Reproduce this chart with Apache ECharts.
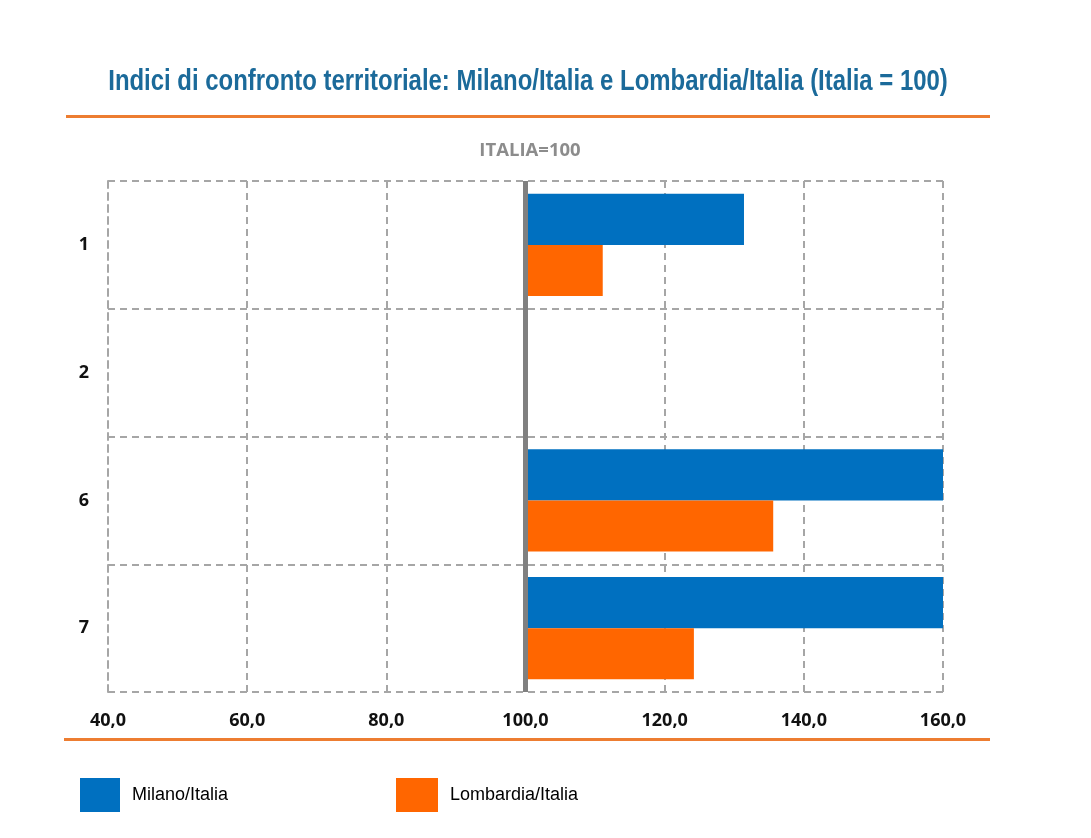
<!DOCTYPE html>
<html>
<head>
<meta charset="utf-8">
<script src="https://cdn.jsdelivr.net/npm/echarts@6/dist/echarts.min.js"></script>
<style>html,body{margin:0;padding:0;background:#fff}#c{width:1091px;height:838px}</style>
</head>
<body>
<div id="c"></div>
<script>
const categories = ['1', '2', '6', '7'];
const milano = [131.4, null, 165.0, 165.0];
const lombardia = [111.1, null, 135.6, 124.2];
const baseline = 100;
const tickValues = [40, 60, 80, 100, 120, 140, 160];

const chart = echarts.init(document.getElementById('c'));
const off = v => (v == null ? null : v - baseline);
const fmt = v => (v + baseline).toFixed(1).replace('.', ',');
const labelFont = { fontFamily: 'Open Sans', fontWeight: 'bold', fontSize: 18, color: '#111' };
const dash = { color: '#a6a6a6', width: 2, type: [7, 5] };

chart.setOption({
  animation: false,
  backgroundColor: '#fff',
  grid: { left: 108, right: 148, top: 181, bottom: 146 },
  xAxis: {
    type: 'value',
    min: tickValues[0] - baseline,
    max: tickValues[tickValues.length - 1] - baseline,
    interval: 20,
    axisLine: { show: false },
    axisTick: { show: false },
    axisLabel: Object.assign({ formatter: fmt, margin: 20 }, labelFont),
    splitLine: { show: true, lineStyle: dash }
  },
  yAxis: {
    type: 'category',
    data: categories,
    inverse: true,
    axisLine: { show: true, onZero: false, lineStyle: dash },
    axisTick: { show: false },
    axisLabel: Object.assign({ margin: 19 }, labelFont),
    splitLine: { show: true, lineStyle: dash }
  },
  legend: [
    { left: 80, top: 778, padding: 0, itemWidth: 40, itemHeight: 34, icon: 'rect', data: ['Milano/Italia'],
      textStyle: { fontFamily: 'Liberation Sans', fontSize: 18, color: '#000', padding: [3, 0, 0, 7] } },
    { left: 396, top: 778, padding: 0, itemWidth: 42, itemHeight: 34, icon: 'rect', data: ['Lombardia/Italia'],
      textStyle: { fontFamily: 'Liberation Sans', fontSize: 18, color: '#000', padding: [3, 0, 0, 7] } }
  ],
  series: [
    {
      name: 'Milano/Italia', type: 'bar', data: milano.map(off),
      barGap: '0%', barCategoryGap: '20%',
      itemStyle: { color: '#0070c0' },
      markLine: {
        silent: true, symbol: 'none', label: { show: false },
        lineStyle: { color: '#808080', width: 5, type: 'solid' },
        data: [{ xAxis: 0 }]
      },
      z: 3
    },
    {
      name: 'Lombardia/Italia', type: 'bar', data: lombardia.map(off),
      barGap: '0%', barCategoryGap: '20%',
      itemStyle: { color: '#ff6600' },
      z: 3
    }
  ],
  graphic: [
    { type: 'text', x: 528, y: 82, scaleX: 0.825,
      style: { text: 'Indici di confronto territoriale: Milano/Italia e Lombardia/Italia (Italia = 100)',
        fontFamily: 'Liberation Sans', fontWeight: 'bold', fontSize: 29, fill: '#1b6a9a',
        align: 'center', verticalAlign: 'middle' } },
    { type: 'rect', shape: { x: 66, y: 115, width: 924, height: 3 }, style: { fill: '#ed7d31' } },
    { type: 'rect', shape: { x: 64, y: 738, width: 926, height: 3 }, style: { fill: '#ed7d31' } },
    { type: 'text', x: 530, y: 151,
      style: { text: 'ITALIA=100', fontFamily: 'Open Sans', fontWeight: 'bold', fontSize: 18.5, fill: '#8c8c8c',
        align: 'center', verticalAlign: 'middle' } }
  ]
});
</script>
</body>
</html>
